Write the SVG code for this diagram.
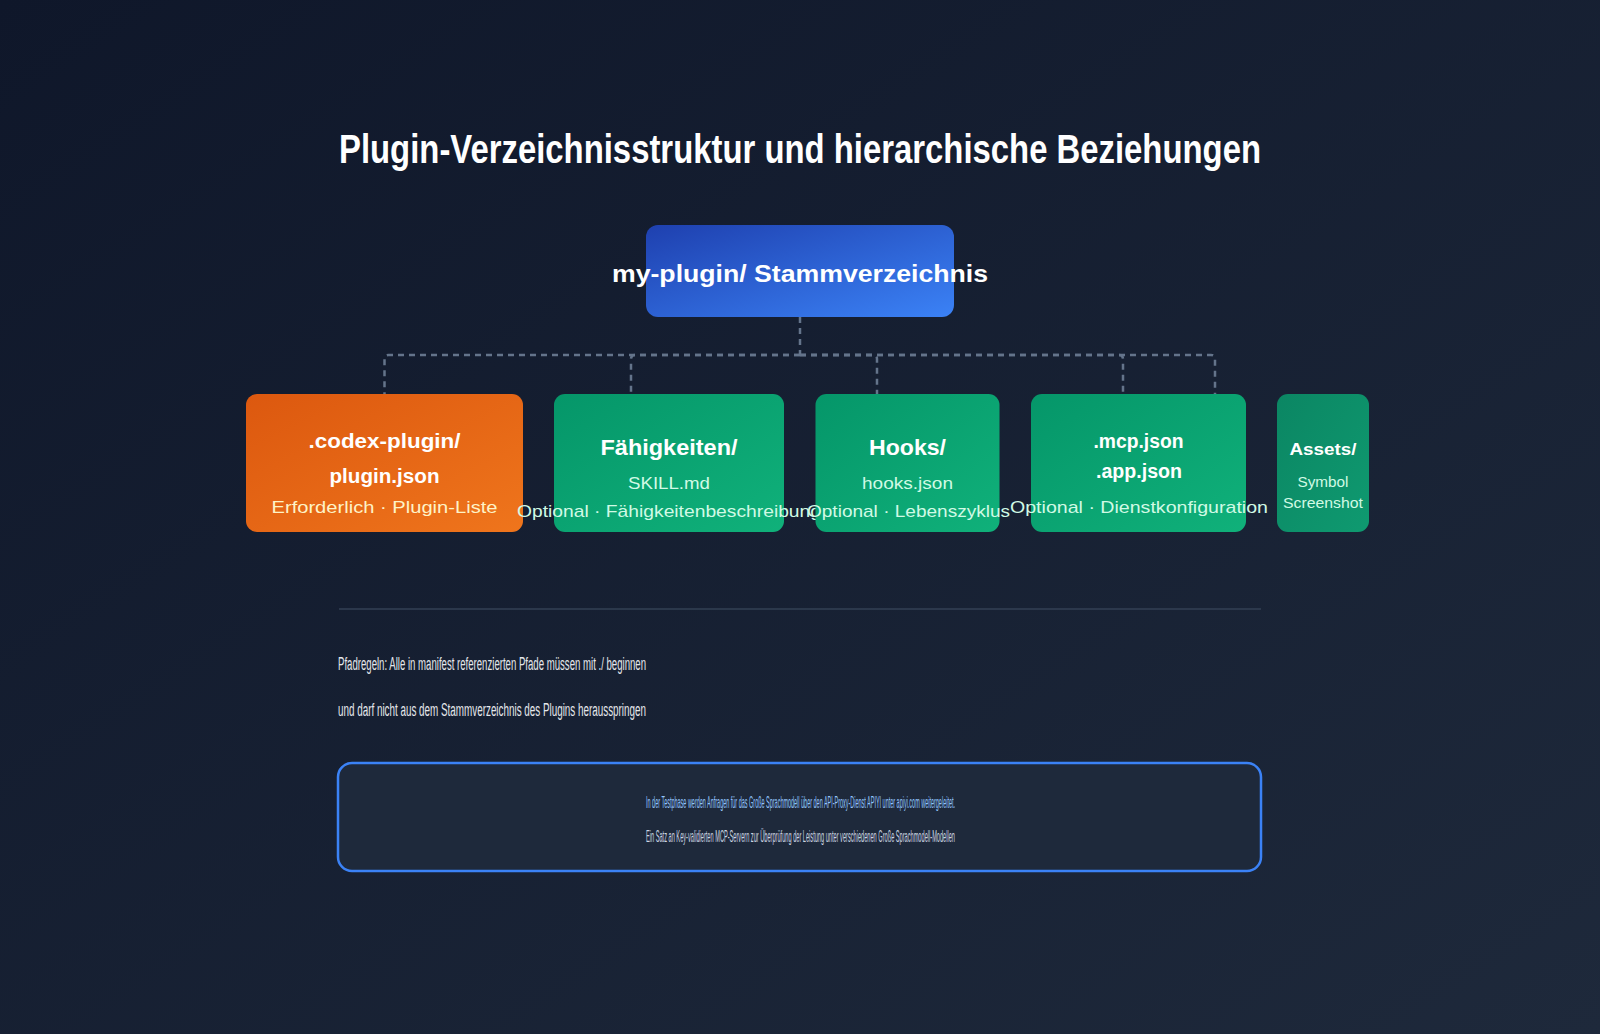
<svg xmlns="http://www.w3.org/2000/svg" width="1600" height="1034" viewBox="0 0 1600 1034">
  <defs>
    <linearGradient id="bg" x1="0" y1="0" x2="1" y2="1">
      <stop offset="0" stop-color="#0f172a"/>
      <stop offset="1" stop-color="#1e293b"/>
    </linearGradient>
    <linearGradient id="gBlue" x1="0" y1="0" x2="1" y2="1">
      <stop offset="0" stop-color="#1e40af"/>
      <stop offset="1" stop-color="#3b82f6"/>
    </linearGradient>
    <linearGradient id="gOrange" x1="0" y1="0" x2="1" y2="1">
      <stop offset="0" stop-color="#dc580f"/>
      <stop offset="1" stop-color="#ef751c"/>
    </linearGradient>
    <linearGradient id="gGreen" x1="0" y1="0" x2="1" y2="1">
      <stop offset="0" stop-color="#059669"/>
      <stop offset="1" stop-color="#10b17a"/>
    </linearGradient>
    <linearGradient id="gGreenDark" x1="0" y1="0" x2="1" y2="1">
      <stop offset="0" stop-color="#0b8663"/>
      <stop offset="1" stop-color="#0f9a70"/>
    </linearGradient>
    <style>
      .sans { font-family: "Liberation Sans", "Noto Sans", Arial, sans-serif; }
      .title { font-size: 40px; font-weight: 700; fill: #ffffff; }
      .nodeTitle { font-weight: 700; fill: #ffffff; text-anchor: middle; }
      .subGreen { fill: #d1fae5; text-anchor: middle; }
      .subOrange { fill: #fef3c7; text-anchor: middle; }
      .conn { fill: none; stroke: #64748b; stroke-width: 2.5; stroke-dasharray: 6 5; }
      .para { font-size: 18px; fill: #e5e7eb; }
      .note1 { font-size: 17px; fill: #93c5fd; text-anchor: middle; }
      .note2 { font-size: 17px; fill: #cbd5e1; text-anchor: middle; }
    </style>
  </defs>

  <rect x="0" y="0" width="1600" height="1034" fill="url(#bg)"/>

  <text class="sans title" x="800" y="163" text-anchor="middle" textLength="922" lengthAdjust="spacingAndGlyphs">Plugin-Verzeichnisstruktur und hierarchische Beziehungen</text>

  <g id="connectors">
    <path class="conn" d="M800 317 V355"/>
    <path class="conn" d="M800 355 H388.5 Q384.5 355 384.5 359 V394"/>
    <path class="conn" d="M800 355 H635 Q631 355 631 359 V394"/>
    <path class="conn" d="M800 355 H873 Q877 355 877 359 V394"/>
    <path class="conn" d="M800 355 H1119 Q1123 355 1123 359 V394"/>
    <path class="conn" d="M800 355 H1211 Q1215 355 1215 359 V394"/>
  </g>

  <g id="root">
    <rect x="646" y="225" width="308" height="92" rx="12" fill="url(#gBlue)"/>
    <text class="sans nodeTitle" x="800" y="282" font-size="24" textLength="376" lengthAdjust="spacingAndGlyphs">my-plugin/ Stammverzeichnis</text>
  </g>

  <g id="codex-plugin">
    <rect x="246" y="394" width="277" height="138" rx="11" fill="url(#gOrange)"/>
    <text class="sans nodeTitle" x="384.5" y="448" font-size="20" textLength="152" lengthAdjust="spacingAndGlyphs">.codex-plugin/</text>
    <text class="sans nodeTitle" x="384.5" y="483" font-size="20" textLength="110" lengthAdjust="spacingAndGlyphs">plugin.json</text>
    <text class="sans subOrange" x="384.5" y="513" font-size="17" textLength="226" lengthAdjust="spacingAndGlyphs">Erforderlich · Plugin-Liste</text>
  </g>

  <g id="faehigkeiten">
    <rect x="554" y="394" width="230" height="138" rx="11" fill="url(#gGreen)"/>
    <text class="sans nodeTitle" x="669" y="455" font-size="22" textLength="137" lengthAdjust="spacingAndGlyphs">Fähigkeiten/</text>
    <text class="sans subGreen" x="669" y="489" font-size="17" textLength="82" lengthAdjust="spacingAndGlyphs">SKILL.md</text>
    <text class="sans subGreen" x="669" y="517" font-size="17" textLength="304" lengthAdjust="spacingAndGlyphs">Optional · Fähigkeitenbeschreibung</text>
  </g>

  <g id="hooks">
    <rect x="815.5" y="394" width="184" height="138" rx="11" fill="url(#gGreen)"/>
    <text class="sans nodeTitle" x="907.5" y="455" font-size="22" textLength="77" lengthAdjust="spacingAndGlyphs">Hooks/</text>
    <text class="sans subGreen" x="907.5" y="489" font-size="17" textLength="91" lengthAdjust="spacingAndGlyphs">hooks.json</text>
    <text class="sans subGreen" x="908.5" y="517" font-size="17" textLength="203" lengthAdjust="spacingAndGlyphs">Optional · Lebenszyklus</text>
  </g>

  <g id="mcp-app">
    <rect x="1031" y="394" width="215" height="138" rx="11" fill="url(#gGreen)"/>
    <text class="sans nodeTitle" x="1138.5" y="448" font-size="20" textLength="90" lengthAdjust="spacingAndGlyphs">.mcp.json</text>
    <text class="sans nodeTitle" x="1139" y="478" font-size="20" textLength="86" lengthAdjust="spacingAndGlyphs">.app.json</text>
    <text class="sans subGreen" x="1139" y="513" font-size="17" textLength="258" lengthAdjust="spacingAndGlyphs">Optional · Dienstkonfiguration</text>
  </g>

  <g id="assets">
    <rect x="1277" y="394" width="92" height="138" rx="11" fill="url(#gGreenDark)"/>
    <text class="sans nodeTitle" x="1323" y="455" font-size="17" textLength="67" lengthAdjust="spacingAndGlyphs">Assets/</text>
    <text class="sans subGreen" x="1323" y="487" font-size="14" textLength="51" lengthAdjust="spacingAndGlyphs">Symbol</text>
    <text class="sans subGreen" x="1323" y="508" font-size="14" textLength="80" lengthAdjust="spacingAndGlyphs">Screenshot</text>
  </g>

  <line x1="339" y1="609" x2="1261" y2="609" stroke="#334155" stroke-width="1.5"/>

  <text class="sans para" x="338" y="670" textLength="308" lengthAdjust="spacingAndGlyphs">Pfadregeln: Alle in manifest referenzierten Pfade müssen mit ./ beginnen</text>
  <text class="sans para" x="338" y="716" textLength="308" lengthAdjust="spacingAndGlyphs">und darf nicht aus dem Stammverzeichnis des Plugins herausspringen</text>

  <g id="note">
    <rect x="338" y="763" width="923" height="108" rx="14" fill="#1e293b" stroke="#3b82f6" stroke-width="2.5"/>
    <text class="sans note1" x="800.5" y="808" textLength="309" lengthAdjust="spacingAndGlyphs">In der Testphase werden Anfragen für das Große Sprachmodell über den API-Proxy-Dienst APIYI unter apiyi.com weitergeleitet.</text>
    <text class="sans note2" x="800.5" y="842" textLength="309" lengthAdjust="spacingAndGlyphs">Ein Satz an Key-validierten MCP-Servern zur Überprüfung der Leistung unter verschiedenen Große Sprachmodell-Modellen</text>
  </g>
</svg>
